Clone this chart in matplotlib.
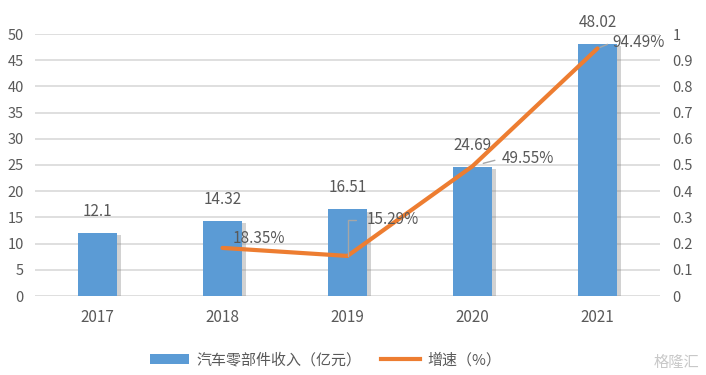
import matplotlib
matplotlib.use("Agg")
import matplotlib.pyplot as plt
import matplotlib.patheffects as pe
from matplotlib.lines import Line2D
from matplotlib.patches import Patch

plt.rcParams['font.family'] = ['Noto Sans CJK SC', 'DejaVu Sans']

years = ['2017', '2018', '2019', '2020', '2021']
revenue = [12.1, 14.32, 16.51, 24.69, 48.02]
growth_years = ['2018', '2019', '2020', '2021']
growth = [0.1835, 0.1529, 0.4955, 0.9449]
growth_labels = ['18.35%', '15.29%', '49.55%', '94.49%']
rev_labels = ['12.1', '14.32', '16.51', '24.69', '48.02']

BAR = '#5B9BD5'
ORANGE = '#ED7D31'
TXT = '#595959'
GRID = '#D9D9D9'
LEADER = '#A6A6A6'

fig = plt.figure(figsize=(7.06, 3.75), dpi=100)
ax = fig.add_axes([35/706, 79/375, 625/706, 262/375])
ax2 = ax.twinx()

x = list(range(len(years)))
ax.bar(x, revenue, width=0.31, color=BAR, zorder=2,
       path_effects=[pe.SimplePatchShadow(offset=(3, -1.5), shadow_rgbFace='#7F7F7F', alpha=0.35),
                     pe.Normal()])
ax.set_xlim(-0.5, 4.5)
ax.set_ylim(0, 50)
ax.set_yticks(range(0, 51, 5))
ax.yaxis.grid(True, color=GRID, linewidth=1.2, zorder=0)
ax.set_axisbelow(True)
for s in ax.spines.values():
    s.set_visible(False)
for s in ax2.spines.values():
    s.set_visible(False)
ax.tick_params(axis='both', length=0, colors=TXT, labelsize=10.5)
ax.tick_params(axis='x', pad=9, labelsize=11)
ax.tick_params(axis='y', pad=8)
ax.set_xticks(x)
ax.set_xticklabels(years)

gx = [years.index(y) for y in growth_years]
ax2.plot(gx, growth, color=ORANGE, linewidth=3, solid_capstyle='round', zorder=3)
ax2.set_ylim(0, 1)
ax2.set_yticks([i / 10 for i in range(11)])
ax2.set_yticklabels(['0', '0.1', '0.2', '0.3', '0.4', '0.5', '0.6', '0.7', '0.8', '0.9', '1'])
ax2.tick_params(axis='y', length=0, colors=TXT, labelsize=10.5, pad=9)

# bar value labels
for xi, v, lab in zip(x, revenue, rev_labels):
    ax.annotate(lab, (xi, v), xytext=(0, 15.5), textcoords='offset points',
                ha='center', va='center', color=TXT, fontsize=11)

# growth labels
ax2.annotate(growth_labels[0], (gx[0], growth[0]), xytext=(7, 7), textcoords='offset points',
             ha='left', va='center', color=TXT, fontsize=11)
ax2.annotate(growth_labels[1], (gx[1], growth[1]), xytext=(14, 26), textcoords='offset points',
             ha='left', va='center', color=TXT, fontsize=11,
             arrowprops=dict(arrowstyle='-', color=LEADER, lw=1,
                             connectionstyle='angle,angleA=0,angleB=90,rad=0',
                             shrinkA=6, shrinkB=0, relpos=(0, 0.5)))
ax2.annotate(growth_labels[2], (gx[2], growth[2]), xytext=(21, 5.5), textcoords='offset points',
             ha='left', va='center', color=TXT, fontsize=11,
             arrowprops=dict(arrowstyle='-', color=LEADER, lw=1,
                             shrinkA=3, shrinkB=8, relpos=(0, 0.5)))
ax2.annotate(growth_labels[3], (gx[3], growth[3]), xytext=(11, 4.5), textcoords='offset points',
             ha='left', va='center', color=TXT, fontsize=11,
             arrowprops=dict(arrowstyle='-', color=LEADER, lw=1,
                             shrinkA=2, shrinkB=2, relpos=(0, 0.5)))

handles = [Patch(facecolor=BAR, edgecolor='none'),
           Line2D([0], [0], color=ORANGE, linewidth=3)]
fig.legend(handles, ['汽车零部件收入（亿元）', '增速（%）'], loc='center',
           bbox_to_anchor=(326/706, 1 - 360/375), ncol=2, frameon=False,
           fontsize=10.8, labelcolor=TXT, handlelength=2.6, handletextpad=0.5,
           columnspacing=1.3, handleheight=0.6)

fig.text(0.99, 1 - 362/375, '格隆汇', ha='right', va='center', color='#C8C8C8', fontsize=11)

fig.savefig('out.png', dpi=100)
